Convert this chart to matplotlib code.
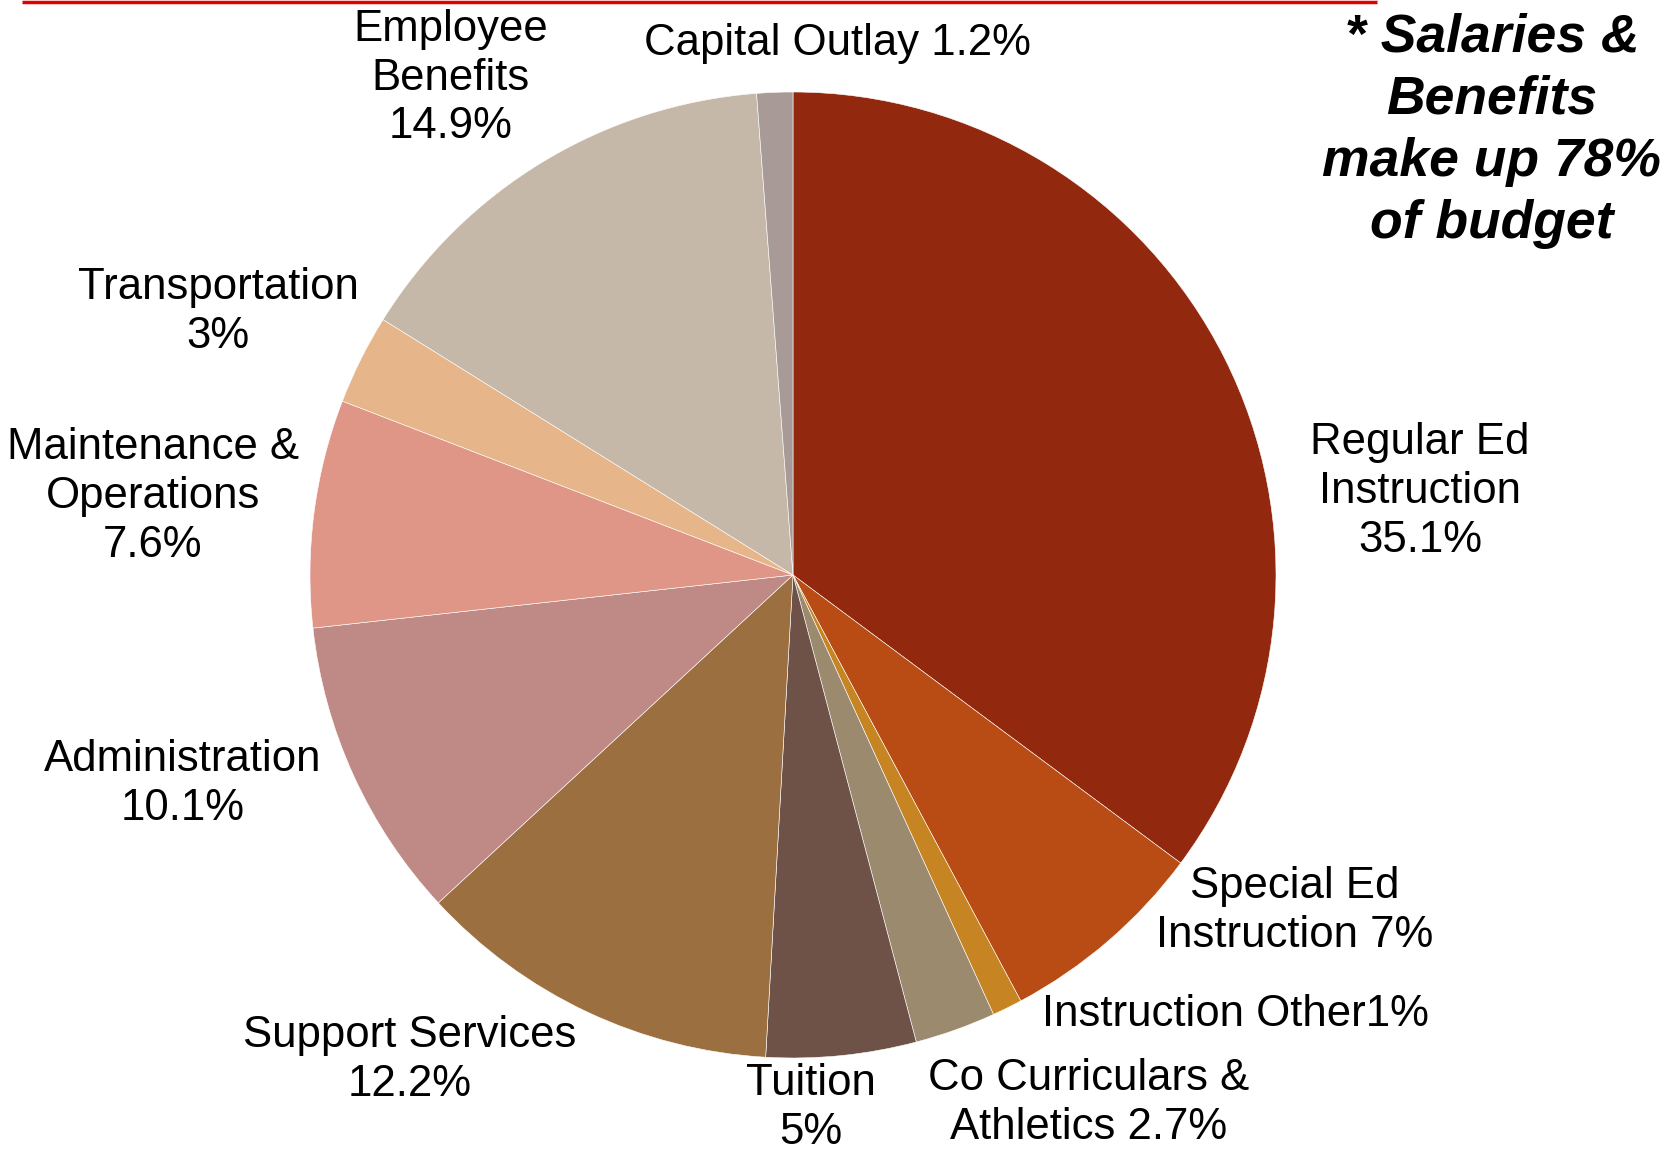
import matplotlib
matplotlib.use("Agg")
import matplotlib.pyplot as plt

# ---- data ----
categories = ["Regular Ed\nInstruction\n35.1%", "Special Ed\nInstruction 7%", "Instruction Other1%",
              "Co Curriculars &\nAthletics 2.7%", "Tuition\n5%", "Support Services\n12.2%",
              "Administration\n10.1%", "Maintenance &\nOperations\n7.6%", "Transportation\n3%",
              "Employee\nBenefits\n14.9%", "Capital Outlay 1.2%"]
values = [35.1, 7.0, 1.0, 2.7, 5.0, 12.2, 10.1, 7.6, 3.0, 14.9, 1.2]
colors = ["#92280E", "#B94C14", "#C78422", "#9B8A6E", "#6E5248", "#9C6F40",
          "#BF8A85", "#DF9686", "#E6B68A", "#C6B8A8", "#A89A96"]
note = "* Salaries &\nBenefits\nmake up 78%\nof budget"

# ---- layout (pixel coordinates, y measured from top) ----
W, H = 1681, 1149
label_pos = [(1420, 492), (1295, 911), (1235, 1015), (1089, 1103), (811, 1108),
             (410, 1060), (183, 784), (153, 497), (218, 312), (451, 78), (837, 43)]

plt.rcParams['font.family'] = ['Liberation Sans', 'DejaVu Sans']
fig = plt.figure(figsize=(W / 100, H / 100), dpi=100)
ax = fig.add_axes([0, 0, 1, 1])

ax.pie(values, colors=colors, startangle=90, counterclock=False,
       center=(793, H - 575), radius=483, frame=True,
       wedgeprops=dict(edgecolor='white', linewidth=0.4))
ax.set_xlim(0, W)
ax.set_ylim(0, H)
ax.set_aspect('equal')
ax.axis('off')

for lab, (x, y) in zip(categories, label_pos):
    ax.text(x, H - y, lab, ha='center', va='center', fontsize=31.5,
            linespacing=1.25, color='black')

ax.text(1492, H - 131, note, ha='center', va='center', fontsize=38.5,
        fontweight='bold', fontstyle='italic', linespacing=1.31)

# red rule at top
ax.plot([22, 1377], [H - 1.5, H - 1.5], color='#E00000', linewidth=2.5,
        solid_capstyle='butt')

fig.savefig("out.png", dpi=100)
